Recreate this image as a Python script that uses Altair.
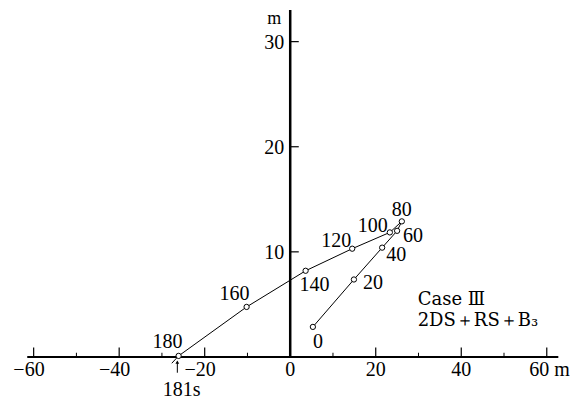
import altair as alt
import pandas as pd

# ---- data (metres) ----
TIMES = [0, 20, 40, 60, 80, 100, 120, 140, 160, 180]
X_M = [5.3, 14.9, 21.5, 25.0, 26.1, 23.3, 14.5, 3.6, -10.2, -26.1]
Y_M = [2.86, 7.37, 10.4, 12.0, 12.9, 11.85, 10.3, 8.2, 4.76, 0.1]
END_T = 181
END_X = -27.7
END_Y = -0.6

X_MAJOR = [-60, -40, -20, 20, 40, 60]
X_MINOR = [-50, -30, -10, 10, 30, 50]
X_LAB_NEG = [-60, -40, -20]
X_LAB_NEG_TXT = ["−60", "−40", "−20"]
X_LAB_POS = [0, 20, 40]
X_LAB_POS_TXT = ["0", "20", "40"]
X_LAB_LAST = 60
X_LAB_LAST_TXT = "60 m"
Y_TICKS = [10, 20, 30]
Y_TICK_TXT = ["10", "20", "30"]
X_AXIS_EXTENT = [-61.5, 62.7]
Y_AXIS_TOP = 33.0
CASE_LINES = ["Case Ⅲ", "2DS＋RS＋B₃"]
END_LABEL = "181s"

# label offsets in pixels (dx, dy) per time label
OFFSETS = {0: (5, 15), 20: (19, 4), 40: (14, 7), 60: (16, 5), 80: (0, -11),
           100: (-17, -6), 120: (-16, -8), 140: (9, 14), 160: (-12, -13),
           180: (-11, -14)}

FONT = "Liberation Serif"
FONT2 = "DejaVu Serif"
FS = 20

xs = alt.Scale(domain=[-66, 65.9], nice=False, zero=False)
ys = alt.Scale(domain=[-4, 33.2], nice=False, zero=False)
X = lambda f: alt.X(f, type="quantitative", scale=xs, axis=None)
Y = lambda f: alt.Y(f, type="quantitative", scale=ys, axis=None)

pts = pd.DataFrame({"t": TIMES, "x": X_M, "y": Y_M})
path = pd.DataFrame({"t": TIMES + [END_T], "x": X_M + [END_X], "y": Y_M + [END_Y]})

layers = []

# axes lines
xaxis = pd.DataFrame({"x": [X_AXIS_EXTENT[0]], "x2": [X_AXIS_EXTENT[1]], "y": [0.0]})
layers.append(alt.Chart(xaxis).mark_rule(color="black", strokeWidth=2).encode(
    x=X("x"), x2="x2", y=Y("y")))
yaxis = pd.DataFrame({"x": [0.0], "y": [0.0], "y2": [Y_AXIS_TOP]})
layers.append(alt.Chart(yaxis).mark_rule(color="black", strokeWidth=2.5).encode(
    x=X("x"), y=Y("y"), y2="y2"))

# x ticks
maj = pd.DataFrame({"x": X_MAJOR, "y": [0.0] * len(X_MAJOR), "y2": [0.9] * len(X_MAJOR)})
layers.append(alt.Chart(maj).mark_rule(color="black", strokeWidth=1.2).encode(
    x=X("x"), y=Y("y"), y2="y2"))
mnr = pd.DataFrame({"x": X_MINOR, "y": [0.0] * len(X_MINOR), "y2": [0.4] * len(X_MINOR)})
layers.append(alt.Chart(mnr).mark_rule(color="black", strokeWidth=1).encode(
    x=X("x"), y=Y("y"), y2="y2"))
# y ticks
yt = pd.DataFrame({"y": Y_TICKS, "x": [0.0] * 3, "x2": [2.0] * 3, "lab": Y_TICK_TXT})
layers.append(alt.Chart(yt).mark_rule(color="black", strokeWidth=1.2).encode(
    y=Y("y"), x=X("x"), x2="x2"))
layers.append(alt.Chart(yt).mark_text(font=FONT, fontSize=FS, align="right",
                                      baseline="middle", dx=-6, dy=1).encode(
    x=X("x"), y=Y("y"), text="lab:N"))
layers.append(alt.Chart(pd.DataFrame({"x": [0.0], "y": [32.2], "t": ["m"]})).mark_text(
    font=FONT, fontSize=18, align="right", baseline="middle", dx=-9).encode(
    x=X("x"), y=Y("y"), text="t:N"))

# x tick labels
neg = pd.DataFrame({"x": X_LAB_NEG, "y": [0.0] * 3, "lab": X_LAB_NEG_TXT})
layers.append(alt.Chart(neg).mark_text(font=FONT, fontSize=FS, align="right",
                                       baseline="middle", dx=11, dy=13).encode(
    x=X("x"), y=Y("y"), text="lab:N"))
pos = pd.DataFrame({"x": X_LAB_POS, "y": [0.0] * 3, "lab": X_LAB_POS_TXT})
layers.append(alt.Chart(pos).mark_text(font=FONT, fontSize=FS, align="center",
                                       baseline="middle", dy=13).encode(
    x=X("x"), y=Y("y"), text="lab:N"))
layers.append(alt.Chart(pd.DataFrame({"x": [X_LAB_LAST], "y": [0.0], "t": [X_LAB_LAST_TXT]})).mark_text(
    font=FONT, fontSize=FS, align="right", baseline="middle", dx=23, dy=13).encode(
    x=X("x"), y=Y("y"), text="t:N"))

# trajectory
layers.append(alt.Chart(path).mark_line(color="black", strokeWidth=1).encode(
    x=X("x"), y=Y("y"), order="t:Q"))
layers.append(alt.Chart(pts).mark_point(shape="circle", filled=True, fill="white",
                                        stroke="black", strokeWidth=1, size=28,
                                        opacity=1).encode(x=X("x"), y=Y("y")))

# time labels
for t, x, y in zip(TIMES, X_M, Y_M):
    dx, dy = OFFSETS[t]
    d = pd.DataFrame({"x": [x], "y": [y], "lab": [str(t)]})
    layers.append(alt.Chart(d).mark_text(font=FONT, fontSize=FS, align="center",
                                         baseline="middle", dx=dx, dy=dy).encode(
        x=X("x"), y=Y("y"), text="lab:N"))

# 181 s arrow and label
arr = pd.DataFrame({"x": [-26.4], "y": [-0.5], "y2": [-1.5]})
layers.append(alt.Chart(arr).mark_rule(color="black", strokeWidth=1).encode(
    x=X("x"), y=Y("y"), y2="y2"))
layers.append(alt.Chart(arr).mark_point(shape="triangle-up", filled=True, color="black",
                                        size=14, opacity=1).encode(x=X("x"), y=Y("y")))
layers.append(alt.Chart(pd.DataFrame({"x": [-25.4], "y": [-3.15], "t": [END_LABEL]})).mark_text(
    font=FONT, fontSize=FS, align="center", baseline="middle").encode(
    x=X("x"), y=Y("y"), text="t:N"))

# case annotation
case = pd.DataFrame({"x": [29.8, 29.8], "y": [5.4, 3.4], "t": CASE_LINES})
layers.append(alt.Chart(case).mark_text(font=FONT2, fontSize=18, align="left",
                                        baseline="middle").encode(
    x=X("x"), y=Y("y"), text="t:N"))

chart = alt.layer(*layers).properties(
    width=564, height=391,
    autosize=alt.AutoSizeParams(type="none"),
    padding={"left": 8, "top": 8, "right": 0, "bottom": 0},
    background="white",
).configure_view(stroke=None)

chart.save("out.html", embed_options={"renderer": "svg", "actions": False})
